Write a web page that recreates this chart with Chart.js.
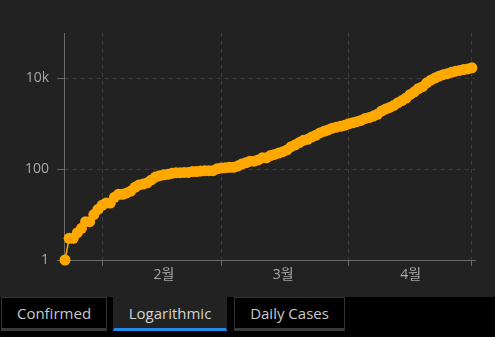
<!DOCTYPE html>
<html>
<head>
<meta charset="utf-8">
<script src="https://cdn.jsdelivr.net/npm/chart.js@4/dist/chart.umd.min.js"></script>
<style>
    html, body { margin: 0; padding: 0; background: #000; width: 495px; height: 337px; overflow: hidden; }
    #chartWrap { position: absolute; left: 0; top: 0; width: 495px; height: 297px; background: #222; }
    #tabs { position: absolute; left: 0; top: 297px; width: 495px; height: 40px; background: #000; }
    .tab {
        position: absolute; top: 0; height: 30px; box-sizing: content-box;
        border: 1px solid #333; border-bottom: 3px solid #3a3a3a;
        background: #000; color: #c8c8c8;
        font: 15px 'Open Sans', 'Noto Sans', sans-serif;
        line-height: 30px; text-align: center;
    }
    .tab.active { background: #222; border-color: #222; border-bottom-color: #2189e6; color: #d4d4d4; }
</style>
</head>
<body>
<div id="chartWrap"><canvas id="caseChart"></canvas></div>
<div id="tabs">
    <div class="tab" style="left:1px;width:104px;">Confirmed</div>
    <div class="tab active" style="left:113px;width:112px;">Logarithmic</div>
    <div class="tab" style="left:234px;width:109px;">Daily Cases</div>
</div>
<script>
// Cumulative confirmed cases, one value per day starting 23 Jan
const janCases = [1, 3, 3, 4, 5, 7, 7, 10, 13];
const febCases = [16, 18, 18, 24, 28, 28, 30, 33, 40, 45, 47, 50, 58, 67, 72, 75, 77, 81, 84, 84,
                  85, 85, 89, 89, 91, 93, 93, 93, 102];
const marCases = [106, 108, 110, 110, 117, 130, 138, 150, 150, 160, 178, 178, 200, 212, 226, 243,
                  266, 313, 345, 385, 432, 455, 509, 558, 631, 683, 732, 802, 844, 879, 926];
const aprCases = [1000, 1049, 1114, 1189, 1309, 1375, 1481, 1623, 1910, 2108, 2299, 2532, 2918,
                  3252, 3699, 4427, 5050, 5992, 6588, 8014, 9125, 10141, 11178, 12075, 12693,
                  13624, 14423, 14951, 15641, 16169];
const mayCases = [17101];

// Month boundaries (day index from 23 Jan) and their labels
const monthTicks  = [9, 38, 69, 99];
const monthLabels = ['2월', '3월', '4월', ''];

const yTicks      = [1, 100, 10000];
const yTickLabels = ['1', '100', '10k'];

const cases  = [...janCases, ...febCases, ...marCases, ...aprCases, ...mayCases];
const points = cases.map((v, i) => ({ x: i, y: v }));

const axisColor = '#6a6a6a';
const gridColor = '#3d3d3d';
const tickFont  = { family: "'Open Sans', 'Noto Sans CJK KR', sans-serif", size: 14 };
const orange    = '#ffa800';

new Chart(document.getElementById('caseChart'), {
    type: 'line',
    data: {
        datasets: [{
            data: points,
            borderColor: orange,
            backgroundColor: orange,
            borderWidth: 1.5,
            pointRadius: 5.5,
            pointBorderWidth: 0,
            pointBackgroundColor: orange,
            tension: 0,
            clip: false
        }]
    },
    options: {
        responsive: true,
        maintainAspectRatio: false,
        animation: false,
        layout: { padding: { top: 33, right: 20, left: 0, bottom: 0 } },
        plugins: { legend: { display: false }, tooltip: { enabled: false } },
        scales: {
            x: {
                type: 'linear',
                min: -0.25,
                max: 99.75,
                afterBuildTicks: (scale) => { scale.ticks = monthTicks.map(v => ({ value: v })); },
                afterFit: (scale) => { scale.height = 37; },
                grid: { color: gridColor, tickColor: axisColor, tickLength: 6, tickBorderDash: [] },
                border: { color: axisColor, width: 1, dash: [4, 4] },
                ticks: {
                    color: '#a8a8a8',
                    font: tickFont,
                    padding: 1,
                    maxRotation: 0,
                    autoSkip: false,
                    labelOffset: 62,
                    callback: (val, i) => monthLabels[i]
                }
            },
            y: {
                type: 'logarithmic',
                min: 1,
                max: 100000,
                afterBuildTicks: (scale) => { scale.ticks = yTicks.map(v => ({ value: v })); },
                afterFit: (scale) => { scale.width = 64; },
                grid: { color: gridColor, tickColor: axisColor, tickLength: 7, tickBorderDash: [] },
                border: { color: axisColor, width: 1, dash: [4, 4] },
                ticks: {
                    color: '#a8a8a8',
                    font: tickFont,
                    padding: 8,
                    autoSkip: false,
                    callback: (val, i) => yTickLabels[i]
                }
            }
        }
    }
});
</script>
</body>
</html>
